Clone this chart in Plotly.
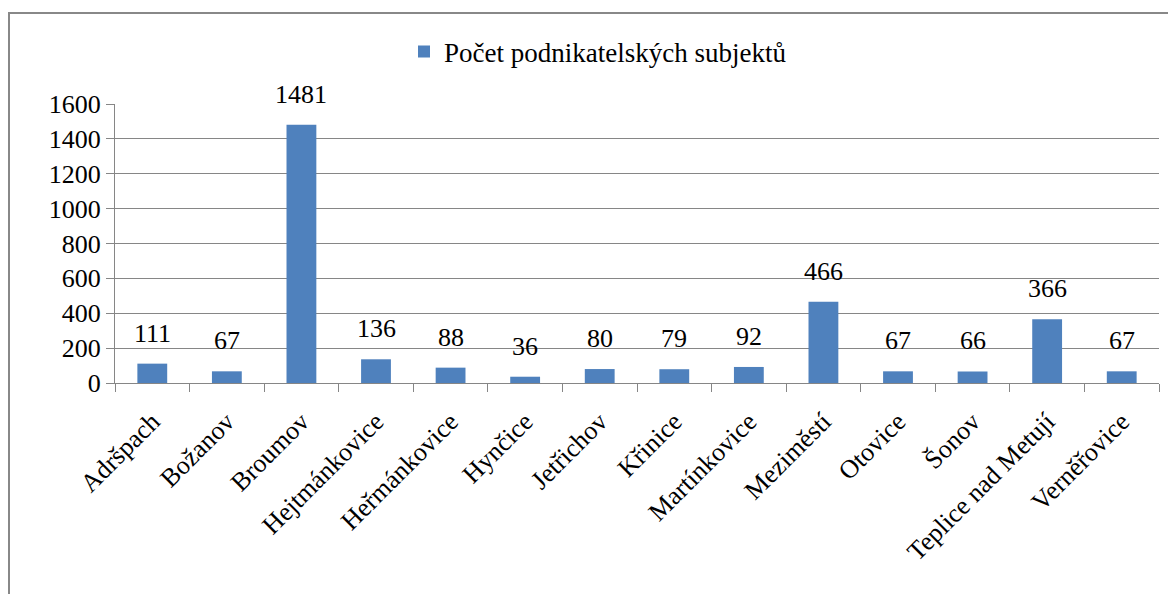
import plotly.graph_objects as go

categories = ["Adršpach", "Božanov", "Broumov", "Hejtmánkovice", "Heřmánkovice",
              "Hynčice", "Jetřichov", "Křinice", "Martínkovice", "Meziměstí",
              "Otovice", "Šonov", "Teplice nad Metují", "Verněřovice"]
values = [111, 67, 1481, 136, 88, 36, 80, 79, 92, 466, 67, 66, 366, 67]
series_name = "Počet podnikatelských subjektů"
y_ticks = [0, 200, 400, 600, 800, 1000, 1200, 1400, 1600]

FONT = "Liberation Serif, DejaVu Serif, serif"
BAR = "#4F81BD"
GRID = "#868686"

W, H = 1176, 594
OFF = 8  # page body margin
L, R, T, B = 115 - OFF, 1176 - (1159 - OFF), 104 - OFF, 594 - (383 - OFF)
pw, ph = W - L - R, H - T - B

fig = go.Figure()
fig.add_trace(go.Bar(x=categories, y=values, name=series_name,
                     marker=dict(color=BAR, line=dict(width=0)),
                     showlegend=True))

for c, v in zip(categories, values):
    fig.add_annotation(x=c, y=v, text=str(v), showarrow=False, xref="x", yref="y",
                       yanchor="bottom", yshift=14,
                       font=dict(family=FONT, size=26, color="black"))

# outer chart frame
fig.add_shape(type="rect", xref="paper", yref="paper",
              x0=(1 - L) / pw, x1=(W + 5 - L) / pw,
              y0=-(B + 10) / ph, y1=1 + (T - (13 - OFF)) / ph,
              line=dict(color="#888888", width=2), layer="below")

fig.update_layout(
    width=W, height=H,
    margin=dict(l=L, r=R, t=T, b=B),
    paper_bgcolor="white", plot_bgcolor="white",
    bargap=0.6,
    font=dict(family=FONT, size=26, color="black"),
    showlegend=True,
    legend=dict(orientation="h", x=(404 - OFF - L) / pw, xanchor="left",
                y=1 + (T - (52 - OFF)) / ph, yanchor="middle",
                font=dict(family=FONT, size=27, color="black"),
                bgcolor="rgba(0,0,0,0)"),
)
fig.update_xaxes(type="category", showline=True, linecolor=GRID, linewidth=1,
                 ticks="outside", tickson="boundaries", ticklen=8, tickcolor=GRID,
                 tickangle=-45, ticklabelstandoff=12,
                 tickfont=dict(family=FONT, size=26, color="black"),
                 showgrid=False)
fig.update_yaxes(range=[0, 1600], tickvals=y_ticks, ticks="outside", ticklen=8,
                 tickcolor=GRID, showline=True, linecolor=GRID, linewidth=1,
                 showgrid=True, gridcolor=GRID, gridwidth=1, zeroline=False,
                 tickfont=dict(family=FONT, size=26, color="black"))

fig.write_html("out.html")
